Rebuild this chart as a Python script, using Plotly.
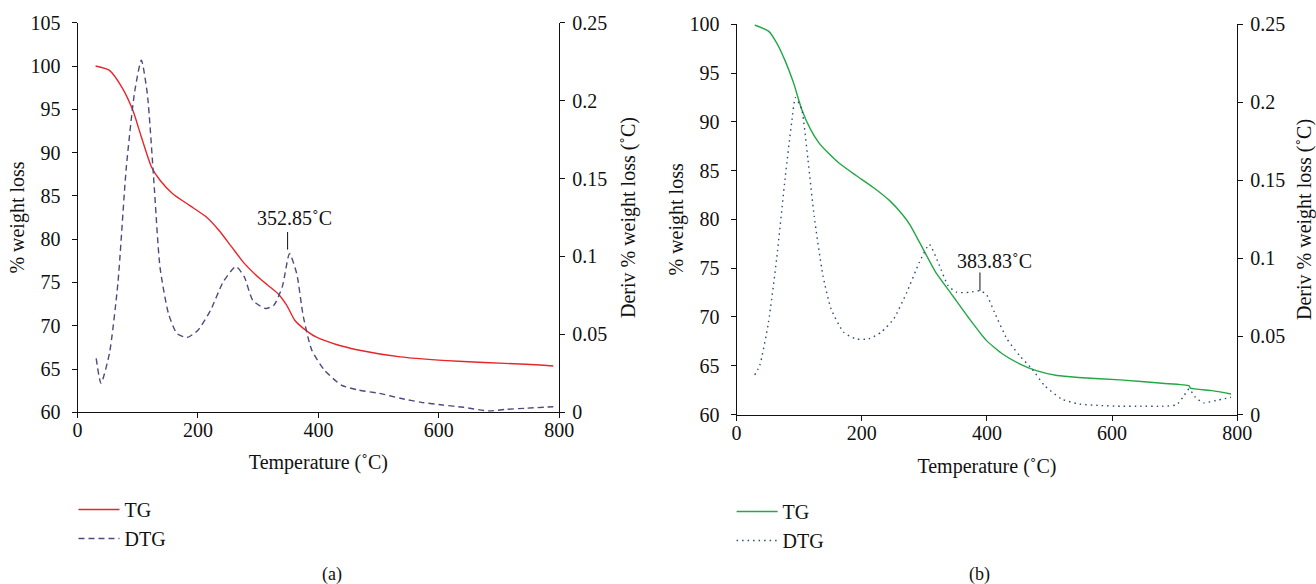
import plotly.graph_objects as go

# ---------------- Panel (a) ----------------
tg_a_temp = [30, 53, 74, 92, 106, 123, 137, 158, 186, 214, 235, 256, 277, 305, 333, 347, 361, 375, 396, 431, 466, 536, 606, 675, 745, 790]
tg_a_val = [100.0, 99.5, 97.5, 94.85, 91.8, 88.3, 86.8, 85.25, 83.9, 82.55, 81.0, 79.1, 77.2, 75.3, 73.7, 72.4, 70.6, 69.7, 68.7, 67.8, 67.2, 66.4, 66.0, 65.75, 65.55, 65.35]

dtg_a_temp = [31, 39, 53, 67, 81, 95, 106, 116, 127, 137, 151, 165, 182, 200, 221, 242, 263, 277, 291, 312, 326, 340, 352, 364, 375, 389, 410, 438, 466, 501, 536, 571, 606, 641, 683, 711, 745, 790]
dtg_a_val = [0.0346, 0.0186, 0.0378, 0.0826, 0.157, 0.206, 0.226, 0.204, 0.147, 0.093, 0.0634, 0.0506, 0.048, 0.0527, 0.0655, 0.0837, 0.0935, 0.0869, 0.0719, 0.0666, 0.0687, 0.0805, 0.1018, 0.089, 0.0613, 0.0399, 0.0271, 0.0175, 0.0143, 0.0122, 0.009, 0.0064, 0.0047, 0.0032, 0.0009, 0.0019, 0.0026, 0.0036]

peak_a_temp = 352.85
peak_a_label = "352.85˚C"

# ---------------- Panel (b) ----------------
tg_b_temp = [29, 51, 64, 78, 91, 104, 118, 131, 145, 165, 191, 218, 245, 265, 278, 298, 318, 345, 372, 399, 425, 452, 479, 512, 546, 613, 680, 723, 725, 760, 790]
tg_b_val = [99.93, 99.3, 98.1, 96.2, 94.0, 91.3, 89.25, 87.9, 86.9, 85.7, 84.5, 83.3, 81.9, 80.5, 79.35, 76.96, 74.6, 72.2, 69.8, 67.6, 66.2, 65.2, 64.5, 64.0, 63.8, 63.55, 63.2, 62.95, 62.7, 62.45, 62.1]

dtg_b_temp = [29, 37, 51, 64, 78, 88, 94, 104, 114, 124, 138, 151, 171, 191, 211, 231, 251, 272, 292, 308, 322, 338, 352, 372, 389, 399, 412, 432, 452, 472, 492, 519, 546, 579, 613, 646, 680, 703, 713, 723, 733, 746, 766, 790]
dtg_b_val = [0.0254, 0.0314, 0.059, 0.0996, 0.153, 0.187, 0.203, 0.1956, 0.1636, 0.127, 0.089, 0.0676, 0.0527, 0.0484, 0.0484, 0.0527, 0.0612, 0.0783, 0.0975, 0.109, 0.0975, 0.0825, 0.0783, 0.0783, 0.0793, 0.077, 0.0655, 0.0484, 0.0378, 0.0292, 0.0186, 0.010, 0.0068, 0.0058, 0.0053, 0.0053, 0.0053, 0.0062, 0.011, 0.0164, 0.011, 0.0075, 0.009, 0.011]

peak_b_temp = 383.83
peak_b_label = "383.83˚C"

FONT = "Liberation Serif"
FS = 20
BLACK = "#111111"
RED = "#e8262a"
PURPLE = "#4c4a7e"
GREEN = "#22a845"
NAVY = "#2a4a7a"

fig = go.Figure()

fig.add_trace(go.Scatter(x=tg_a_temp, y=tg_a_val, mode="lines", name="TG",
                         line=dict(color=RED, width=1.4, shape="spline", smoothing=0.6),
                         xaxis="x", yaxis="y", legend="legend", legendgroup="a1"))
fig.add_trace(go.Scatter(x=dtg_a_temp, y=dtg_a_val, mode="lines", name="DTG",
                         line=dict(color=PURPLE, width=1.4, dash="6px,4px", shape="spline", smoothing=0.6),
                         xaxis="x", yaxis="y2", legend="legend", legendgroup="a2"))
fig.add_trace(go.Scatter(x=tg_b_temp, y=tg_b_val, mode="lines", name="TG",
                         line=dict(color=GREEN, width=1.4, shape="spline", smoothing=0.5),
                         xaxis="x2", yaxis="y3", legend="legend2", legendgroup="b1"))
fig.add_trace(go.Scatter(x=dtg_b_temp, y=dtg_b_val, mode="lines", name="DTG",
                         line=dict(color=NAVY, width=1.4, dash="1.5px,4px", shape="spline", smoothing=0.5),
                         xaxis="x2", yaxis="y4", legend="legend2", legendgroup="b2"))

axis_common = dict(showgrid=False, zeroline=False, showline=True, linecolor=BLACK, linewidth=1,
                   ticks="outside", ticklen=5, tickcolor=BLACK, tickwidth=1, automargin=False,
                   tickfont=dict(family=FONT, size=FS, color=BLACK))
title_font = dict(family=FONT, size=FS, color=BLACK)

fig.update_layout(
    width=1316, height=584,
    margin=dict(l=0, r=0, t=0, b=0),
    paper_bgcolor="white", plot_bgcolor="white",
    font=dict(family=FONT, size=FS, color=BLACK),
    xaxis=dict(domain=[0.0589, 0.4250], range=[0, 800], dtick=200, anchor="y", ticklabelstandoff=-5,
               title=dict(text="Temperature (˚C)", font=title_font, standoff=14), **axis_common),
    yaxis=dict(domain=[0.2940, 0.9611], range=[60, 105], dtick=5, anchor="x", ticklabelstandoff=7,
               title=dict(text="% weight loss", font=title_font, standoff=0), **axis_common),
    yaxis2=dict(range=[0, 0.25], dtick=0.05, overlaying="y", side="right", anchor="x", ticklabelstandoff=3,
                title=dict(text="Deriv % weight loss (˚C)", font=title_font, standoff=14), **axis_common),
    xaxis2=dict(domain=[0.5597, 0.9402], range=[0, 800], dtick=200, anchor="y3", ticklabelstandoff=-5,
                title=dict(text="Temperature (˚C)", font=title_font, standoff=16), **axis_common),
    yaxis3=dict(domain=[0.2902, 0.9584], range=[60, 100], dtick=5, anchor="x2", ticklabelstandoff=7,
                title=dict(text="% weight loss", font=title_font, standoff=0), **axis_common),
    yaxis4=dict(range=[0, 0.25], dtick=0.05, overlaying="y3", side="right", anchor="x2", ticklabelstandoff=3,
                title=dict(text="Deriv % weight loss (˚C)", font=title_font, standoff=14), **axis_common),
    legend=dict(x=73.5 / 1316, y=(584 - 490) / 584, xanchor="left", yanchor="top",
                font=dict(family=FONT, size=FS, color=BLACK), tracegroupgap=0,
                bgcolor="rgba(0,0,0,0)", itemwidth=41),
    legend2=dict(x=731.6 / 1316, y=(584 - 492) / 584, xanchor="left", yanchor="top",
                 font=dict(family=FONT, size=FS, color=BLACK), tracegroupgap=0,
                 bgcolor="rgba(0,0,0,0)", itemwidth=41),
    showlegend=True,
)

# Peak markers and labels
fig.add_shape(type="line", xref="x", yref="y2", x0=peak_a_temp - 4, x1=peak_a_temp - 4,
              y0=0.1044, y1=0.1157, line=dict(color=BLACK, width=1))
fig.add_annotation(x=peak_a_temp + 8, y=0.1165, xref="x", yref="y2", text=peak_a_label,
                   showarrow=False, yanchor="bottom", font=dict(family=FONT, size=FS, color=BLACK))
fig.add_shape(type="line", xref="x2", yref="y4", x0=peak_b_temp + 5, x1=peak_b_temp + 5,
              y0=0.0793, y1=0.091, line=dict(color=BLACK, width=1))
fig.add_annotation(x=peak_b_temp + 28, y=0.090, xref="x2", yref="y4", text=peak_b_label,
                   showarrow=False, yanchor="bottom", font=dict(family=FONT, size=FS, color=BLACK))

# Panel captions
fig.add_annotation(x=320 / 1316, y=(584 - 574) / 584, xref="paper", yref="paper", text="(a)",
                   showarrow=False, yanchor="middle", font=dict(family=FONT, size=18, color=BLACK))
fig.add_annotation(x=992 / 1316, y=(584 - 574) / 584, xref="paper", yref="paper", text="(b)",
                   showarrow=False, yanchor="middle", font=dict(family=FONT, size=18, color=BLACK))

fig.write_html("out.html", config={"displayModeBar": False},
               post_script="document.body.style.margin='0';")
